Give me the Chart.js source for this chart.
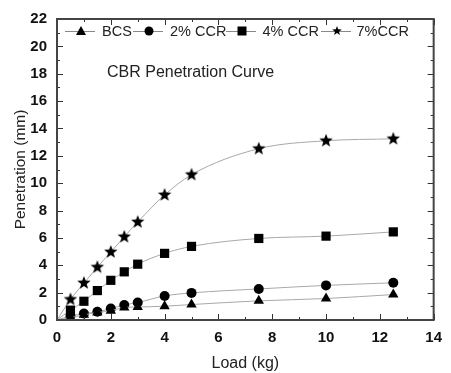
<!DOCTYPE html>
<html>
<head>
<meta charset="utf-8">
<script src="https://cdn.jsdelivr.net/npm/chart.js@4.4.1/dist/chart.umd.min.js"></script>
<style>
  html, body { margin: 0; padding: 0; background: #fff; }
  #wrap { width: 451px; height: 373px; position: relative; }
</style>
</head>
<body>
<div id="wrap"><canvas id="cbrChart"></canvas></div>
<script>
// Load values (kg) shared by all series
const loads = [0, 0.5, 1, 1.5, 2, 2.5, 3, 4, 5, 7.5, 10, 12.5];

// Penetration (mm)
const bcs    = [0, 0.17, 0.38, 0.55, 0.67, 0.92, 0.95, 1.01, 1.13, 1.40, 1.57, 1.86];
const ccr2   = [0, 0.29, 0.48, 0.60, 0.84, 1.10, 1.28, 1.76, 1.98, 2.27, 2.53, 2.72];
const ccr4   = [0, 0.72, 1.37, 2.15, 2.90, 3.52, 4.08, 4.87, 5.38, 5.96, 6.13, 6.44];
const ccr7   = [0, 1.50, 2.70, 3.86, 4.97, 6.08, 7.16, 9.14, 10.62, 12.52, 13.10, 13.24];

const seriesNames = ['BCS', '2% CCR', '4% CCR', '7%CCR'];
const xTicks = [0, 2, 4, 6, 8, 10, 12, 14];
const yTicks = [0, 2, 4, 6, 8, 10, 12, 14, 16, 18, 20, 22];

const FONT = 'Liberation Sans, Arial, sans-serif';
const LINE_COLOR = '#a8a8a8';

// filled star used as point style
function makeStar(r) {
    const c = document.createElement('canvas');
    c.width = c.height = r * 2 + 2;
    const g = c.getContext('2d');
    g.fillStyle = '#000';
    g.beginPath();
    for (let i = 0; i < 10; i++) {
        const rad = i % 2 === 0 ? r : r * 0.42;
        const a = -Math.PI / 2 + i * Math.PI / 5;
        const px = c.width / 2 + rad * Math.cos(a);
        const py = c.height / 2 + rad * Math.sin(a);
        if (i === 0) g.moveTo(px, py); else g.lineTo(px, py);
    }
    g.closePath();
    g.fill();
    return c;
}
const starImg = makeStar(7);
const smallStar = makeStar(5);

const styles = ['triangle', 'circle', 'rect', starImg];
const radii = [6, 5, 6.5, 6];
const allData = [bcs, ccr2, ccr4, ccr7];

function toPoints(vals) {
    return loads.map((x, i) => ({ x: x, y: vals[i] }));
}

const datasets = allData.map((vals, k) => ({
    label: seriesNames[k],
    data: toPoints(vals),
    borderColor: LINE_COLOR,
    borderWidth: 1,
    backgroundColor: '#000',
    pointBackgroundColor: '#000',
    pointBorderColor: '#000',
    pointBorderWidth: 0,
    pointStyle: styles[k],
    pointRadius: loads.map(x => x === 0 ? 0 : radii[k]),
    cubicInterpolationMode: 'monotone',
    clip: false
}));

// frame with inward major/minor ticks on all four sides
const framePlugin = {
    id: 'frame',
    afterDraw(chart) {
        const { ctx, chartArea: a, scales } = chart;
        const xs = scales.x, ys = scales.y;
        ctx.save();
        ctx.strokeStyle = '#333';
        ctx.lineWidth = 1;
        for (let v = 0; v <= 14; v += 1) {
            const px = Math.round(xs.getPixelForValue(v)) + 0.5;
            const len = v % 2 === 0 ? 6 : 3;
            ctx.beginPath();
            ctx.moveTo(px, a.bottom); ctx.lineTo(px, a.bottom - len);
            ctx.moveTo(px, a.top); ctx.lineTo(px, a.top + len);
            ctx.stroke();
        }
        for (let v = 0; v <= 22; v += 1) {
            const py = Math.round(ys.getPixelForValue(v)) + 0.5;
            const len = v % 2 === 0 ? 6 : 3;
            ctx.beginPath();
            ctx.moveTo(a.left, py); ctx.lineTo(a.left + len, py);
            ctx.moveTo(a.right, py); ctx.lineTo(a.right - len, py);
            ctx.stroke();
        }
        ctx.lineWidth = 2;
        ctx.strokeStyle = '#444';
        ctx.strokeRect(a.left, a.top, a.right - a.left, a.bottom - a.top);
        ctx.restore();
    }
};

// legend row and caption inside the plot
const legendPlugin = {
    id: 'insideLegend',
    afterDraw(chart) {
        const { ctx } = chart;
        const y = 31;
        const markX = [81, 149, 242, 337];
        const textX = [102, 170, 262.5, 356.5];
        ctx.save();
        ctx.font = '14.5px ' + FONT;
        ctx.textBaseline = 'middle';
        markX.forEach((mx, k) => {
            ctx.strokeStyle = '#888';
            ctx.lineWidth = 1;
            ctx.beginPath();
            ctx.moveTo(mx - 16, y + 0.5); ctx.lineTo(mx + 14, y + 0.5);
            ctx.stroke();
            ctx.fillStyle = '#000';
            if (k === 0) {
                ctx.beginPath();
                ctx.moveTo(mx, y - 5); ctx.lineTo(mx + 5, y + 4); ctx.lineTo(mx - 5, y + 4);
                ctx.closePath(); ctx.fill();
            } else if (k === 1) {
                ctx.beginPath(); ctx.arc(mx, y, 4.5, 0, Math.PI * 2); ctx.fill();
            } else if (k === 2) {
                ctx.fillRect(mx - 4.5, y - 4.5, 9, 9);
            } else {
                ctx.drawImage(smallStar, mx - smallStar.width / 2, y - smallStar.height / 2);
            }
            ctx.fillStyle = '#222';
            ctx.fillText(seriesNames[k], textX[k], y + 1);
        });
        ctx.font = '16px ' + FONT;
        ctx.fillText('CBR Penetration Curve', 107, 73);
        ctx.restore();
    }
};

const chart = new Chart(document.getElementById('cbrChart'), {
    type: 'line',
    data: { datasets: datasets },
    options: {
        responsive: true,
        maintainAspectRatio: false,
        animation: false,
        layout: { padding: { left: 0, top: 13, right: 7, bottom: 0 } },
        plugins: {
            legend: { display: false },
            tooltip: { enabled: false }
        },
        scales: {
            x: {
                type: 'linear',
                min: 0,
                max: 14,
                grid: { display: false, drawTicks: false },
                border: { display: false },
                afterBuildTicks: s => { s.ticks = xTicks.map(v => ({ value: v })); },
                afterFit: s => { s.height = 53; },
                ticks: {
                    color: '#111',
                    padding: 9,
                    font: { family: FONT, size: 15, weight: 'bold' }
                },
                title: {
                    display: true,
                    text: 'Load (kg)',
                    color: '#222',
                    padding: { top: 2, bottom: 0 },
                    font: { family: FONT, size: 16 }
                }
            },
            y: {
                type: 'linear',
                min: 0,
                max: 22,
                grid: { display: false, drawTicks: false },
                border: { display: false },
                afterBuildTicks: s => { s.ticks = yTicks.map(v => ({ value: v })); },
                afterFit: s => { s.width = 57; },
                ticks: {
                    color: '#111',
                    padding: 10,
                    font: { family: FONT, size: 15, weight: 'bold' }
                },
                title: {
                    display: true,
                    text: 'Penetration (mm)',
                    color: '#222',
                    padding: { top: 11, bottom: 0 },
                    font: { family: FONT, size: 15.5 }
                }
            }
        }
    },
    plugins: [framePlugin, legendPlugin]
});
</script>
</body>
</html>
